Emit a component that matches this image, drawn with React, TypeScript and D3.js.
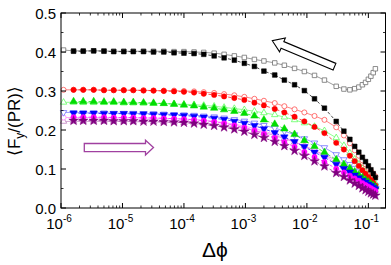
import React from "react";
import * as d3 from "d3";

const xFwd = [1.6e-6, 2.3e-6, 3.4e-6, 5e-6, 7.2e-6, 1.05e-5, 1.5e-5, 2.2e-5, 3.2e-5, 4.7e-5, 6.9e-5, 1e-4, 1.46e-4, 2.1e-4, 3.1e-4, 4.5e-4, 6.6e-4, 9.6e-4, 1.4e-3, 2e-3, 3e-3, 4.3e-3, 6.3e-3, 9.1e-3, 0.0133, 0.0193, 0.03, 0.04, 0.05, 0.06, 0.07, 0.08, 0.09, 0.1, 0.11, 0.12, 0.13];
const xRev = [1.1e-6, 1.6e-6, 2.3e-6, 3.4e-6, 5e-6, 7.2e-6, 1.05e-5, 1.5e-5, 2.2e-5, 3.2e-5, 4.7e-5, 6.9e-5, 1e-4, 1.46e-4, 2.1e-4, 3.1e-4, 4.5e-4, 6.6e-4, 9.6e-4, 1.4e-3, 2e-3, 3e-3, 4.3e-3, 6.3e-3, 9.1e-3, 0.0133, 0.0193, 0.03, 0.04, 0.05, 0.06, 0.07, 0.08, 0.09, 0.1, 0.11, 0.12, 0.13];

const blackFwd = [0.402, 0.402, 0.403, 0.402, 0.401, 0.401, 0.401, 0.401, 0.400, 0.400, 0.398, 0.397, 0.396, 0.394, 0.390, 0.385, 0.379, 0.371, 0.363, 0.351, 0.341, 0.328, 0.316, 0.301, 0.280, 0.256, 0.222, 0.197, 0.176, 0.158, 0.143, 0.130, 0.119, 0.108, 0.098, 0.088, 0.078];
const blackRev = [0.405, 0.403, 0.403, 0.403, 0.403, 0.402, 0.402, 0.402, 0.402, 0.402, 0.402, 0.401, 0.401, 0.400, 0.399, 0.397, 0.394, 0.390, 0.386, 0.381, 0.377, 0.372, 0.366, 0.358, 0.350, 0.340, 0.328, 0.312, 0.305, 0.303, 0.306, 0.310, 0.316, 0.322, 0.330, 0.338, 0.347, 0.357];
const redFwd = [0.303, 0.303, 0.303, 0.302, 0.302, 0.302, 0.302, 0.301, 0.301, 0.300, 0.299, 0.298, 0.296, 0.293, 0.290, 0.286, 0.282, 0.277, 0.270, 0.263, 0.254, 0.245, 0.234, 0.222, 0.208, 0.192, 0.167, 0.150, 0.134, 0.120, 0.108, 0.097, 0.088, 0.080, 0.072, 0.065, 0.058];
const redRev = [0.303, 0.303, 0.303, 0.303, 0.302, 0.302, 0.302, 0.302, 0.302, 0.301, 0.301, 0.301, 0.300, 0.299, 0.297, 0.295, 0.292, 0.289, 0.285, 0.280, 0.275, 0.269, 0.261, 0.253, 0.245, 0.236, 0.226, 0.207, 0.186, 0.166, 0.148, 0.134, 0.122, 0.112, 0.103, 0.095, 0.088, 0.081];
const greenFwd = [0.273, 0.273, 0.273, 0.272, 0.272, 0.271, 0.271, 0.270, 0.269, 0.268, 0.266, 0.264, 0.262, 0.259, 0.256, 0.252, 0.248, 0.243, 0.236, 0.226, 0.215, 0.203, 0.189, 0.173, 0.158, 0.143, 0.124, 0.112, 0.102, 0.093, 0.085, 0.078, 0.072, 0.067, 0.062, 0.058, 0.054];
const greenRev = [0.271, 0.271, 0.270, 0.270, 0.270, 0.270, 0.269, 0.269, 0.269, 0.268, 0.268, 0.267, 0.266, 0.265, 0.263, 0.261, 0.258, 0.255, 0.252, 0.248, 0.244, 0.239, 0.233, 0.226, 0.218, 0.209, 0.198, 0.180, 0.160, 0.141, 0.125, 0.112, 0.101, 0.092, 0.084, 0.077, 0.070, 0.064];
const blueFwd = [0.243, 0.243, 0.243, 0.242, 0.242, 0.242, 0.241, 0.241, 0.240, 0.239, 0.238, 0.237, 0.235, 0.233, 0.230, 0.227, 0.222, 0.217, 0.211, 0.203, 0.193, 0.182, 0.170, 0.157, 0.143, 0.130, 0.112, 0.101, 0.092, 0.084, 0.077, 0.071, 0.066, 0.061, 0.057, 0.053, 0.049];
const blueRev = [0.245, 0.245, 0.244, 0.244, 0.244, 0.243, 0.243, 0.243, 0.242, 0.242, 0.241, 0.240, 0.239, 0.238, 0.236, 0.234, 0.231, 0.227, 0.223, 0.218, 0.212, 0.205, 0.197, 0.188, 0.178, 0.167, 0.155, 0.137, 0.124, 0.112, 0.102, 0.093, 0.086, 0.079, 0.073, 0.067, 0.062, 0.057];
const magentaFwd = [0.233, 0.233, 0.233, 0.233, 0.232, 0.232, 0.232, 0.231, 0.231, 0.230, 0.229, 0.228, 0.226, 0.224, 0.221, 0.217, 0.212, 0.206, 0.199, 0.190, 0.180, 0.169, 0.157, 0.144, 0.131, 0.118, 0.101, 0.091, 0.083, 0.076, 0.070, 0.064, 0.059, 0.055, 0.051, 0.047, 0.044];
const magentaRev = [0.232, 0.232, 0.232, 0.232, 0.232, 0.231, 0.231, 0.231, 0.231, 0.230, 0.230, 0.229, 0.228, 0.227, 0.225, 0.222, 0.219, 0.215, 0.210, 0.204, 0.197, 0.189, 0.180, 0.170, 0.159, 0.147, 0.134, 0.116, 0.104, 0.094, 0.085, 0.078, 0.072, 0.066, 0.061, 0.056, 0.052, 0.048];
const purpleFwd = [0.224, 0.224, 0.224, 0.224, 0.223, 0.223, 0.223, 0.222, 0.222, 0.221, 0.220, 0.219, 0.217, 0.214, 0.211, 0.207, 0.202, 0.196, 0.188, 0.180, 0.170, 0.159, 0.147, 0.134, 0.120, 0.107, 0.090, 0.080, 0.071, 0.063, 0.057, 0.051, 0.046, 0.042, 0.038, 0.035, 0.032];
const purpleRev = [0.222, 0.222, 0.222, 0.222, 0.222, 0.222, 0.222, 0.221, 0.221, 0.221, 0.220, 0.220, 0.219, 0.218, 0.217, 0.215, 0.212, 0.208, 0.204, 0.199, 0.193, 0.186, 0.178, 0.169, 0.159, 0.148, 0.136, 0.123, 0.106, 0.094, 0.084, 0.076, 0.069, 0.063, 0.058, 0.053, 0.049, 0.045];

const yTicks = [0, 0.1, 0.2, 0.3, 0.4, 0.5];
const yTickLabels = ["0.0", "0.1", "0.2", "0.3", "0.4", "0.5"];
const xDecades = [1e-6, 1e-5, 1e-4, 1e-3, 1e-2, 1e-1];
const xDecadeExp = ["-6", "-5", "-4", "-3", "-2", "-1"];

const W = 391, H = 265;
const L = 61, R = 385.5, T = 13, B = 208;

type Series = { x: number[]; y: number[]; color: string; sym: string; open: boolean; size: number };

const revSeries: Series[] = [
  { x: xRev, y: purpleRev, color: "#c080c0", sym: "tri", open: true, size: 18 },
  { x: xRev, y: magentaRev, color: "#ff80ff", sym: "circle", open: true, size: 20 },
  { x: xRev, y: blueRev, color: "#7070ff", sym: "triDown", open: true, size: 18 },
  { x: xRev, y: greenRev, color: "#60ff60", sym: "tri", open: true, size: 18 },
  { x: xRev, y: redRev, color: "#ff5050", sym: "circle", open: true, size: 20 },
  { x: xRev, y: blackRev, color: "#707070", sym: "square", open: true, size: 20 },
];
const fwdSeries: Series[] = [
  { x: xFwd, y: blackFwd, color: "#000000", sym: "square", open: false, size: 22 },
  { x: xFwd, y: redFwd, color: "#ff0000", sym: "circle", open: false, size: 22 },
  { x: xFwd, y: greenFwd, color: "#00dd00", sym: "tri", open: false, size: 24 },
  { x: xFwd, y: blueFwd, color: "#0000ff", sym: "triDown", open: false, size: 24 },
  { x: xFwd, y: magentaFwd, color: "#ff00ff", sym: "circle", open: false, size: 22 },
  { x: xFwd, y: purpleFwd, color: "#800080", sym: "star", open: false, size: 28 },
];

export default function App() {
  const x = d3.scaleLog().domain([1e-6, 0.19]).range([L, R]);
  const y = d3.scaleLinear().domain([0, 0.5]).range([B, T]);

  const minorX: number[] = [];
  for (let e = -6; e <= -1; e++) {
    for (let m = 2; m <= 9; m++) {
      const v = m * Math.pow(10, e);
      if (v < 0.19) minorX.push(v);
    }
  }
  const minorY = [0.05, 0.15, 0.25, 0.35, 0.45];

  const symPath = (s: Series) => {
    const t = s.sym === "square" ? d3.symbolSquare : s.sym === "circle" ? d3.symbolCircle : s.sym === "star" ? d3.symbolStar : d3.symbolTriangle;
    return d3.symbol().type(t).size(s.size)() as string;
  };

  const renderSeries = (s: Series, i: number) => {
    const pts: [number, number][] = s.x.map((xv, k) => [x(xv), y(s.y[k])]);
    const line = d3.line()(pts) as string;
    const p = symPath(s);
    return (
      <g key={(s.open ? "o" : "f") + i}>
        <path d={line} fill="none" stroke={s.color} strokeWidth={0.7} strokeDasharray={s.open ? undefined : "3,2"} />
        {pts.map(([px, py], k) => (
          <path
            key={k}
            d={p}
            transform={`translate(${px},${py})${s.sym === "triDown" ? " rotate(180)" : ""}`}
            fill={s.open ? "white" : s.color}
            stroke={s.color}
            strokeWidth={s.open ? 0.8 : 0.5}
          />
        ))}
      </g>
    );
  };

  const tail: [number, number] = [334.5, 66.7];
  const tip: [number, number] = [272.3, 40.7];
  const dx = tip[0] - tail[0], dy = tip[1] - tail[1];
  const len = Math.hypot(dx, dy);
  const ux = dx / len, uy = dy / len;
  const nx = -uy, ny = ux;
  const hw = 3.6, hh = 7.5, hl = 11;
  const bx = tip[0] - ux * hl, by = tip[1] - uy * hl;
  const arrowPts = [
    [tail[0] + nx * hw, tail[1] + ny * hw],
    [bx + nx * hw, by + ny * hw],
    [bx + nx * hh, by + ny * hh],
    [tip[0], tip[1]],
    [bx - nx * hh, by - ny * hh],
    [bx - nx * hw, by - ny * hw],
    [tail[0] - nx * hw, tail[1] - ny * hw],
  ];
  const arrow1 = "M" + arrowPts.map((p) => p.join(",")).join("L") + "Z";
  const a2 = [
    [84.3, 143.5], [145.5, 143.5], [145.5, 140.2], [153.5, 147.6], [145.5, 155], [145.5, 151.7], [84.3, 151.7],
  ];
  const arrow2 = "M" + a2.map((p) => p.join(",")).join("L") + "Z";

  return (
    <svg width={W} height={H} style={{ position: "absolute", left: 0, top: 0, background: "white" }} fontFamily="'Liberation Sans', Arial, sans-serif">
      <rect x={0} y={0} width={W} height={H} fill="white" />
      {revSeries.map(renderSeries)}
      {fwdSeries.map(renderSeries)}
      <rect x={L} y={T} width={R - L} height={B - T} fill="none" stroke="black" strokeWidth={1} />
      {xDecades.map((v, i) => (
        <g key={"xd" + i}>
          <line x1={x(v)} x2={x(v)} y1={B} y2={B - 5} stroke="black" />
          <line x1={x(v)} x2={x(v)} y1={T} y2={T + 5} stroke="black" />
          <text x={x(v) - 2} y={229} textAnchor="middle" fontSize={15}>
            10<tspan dy={-7} fontSize={10}>{xDecadeExp[i]}</tspan>
          </text>
        </g>
      ))}
      {minorX.map((v, i) => (
        <g key={"xm" + i}>
          <line x1={x(v)} x2={x(v)} y1={B} y2={B - 2.5} stroke="black" strokeWidth={0.8} />
          <line x1={x(v)} x2={x(v)} y1={T} y2={T + 2.5} stroke="black" strokeWidth={0.8} />
        </g>
      ))}
      {yTicks.map((v, i) => (
        <g key={"yt" + i}>
          <line x1={L} x2={L + 5} y1={y(v)} y2={y(v)} stroke="black" />
          <line x1={R} x2={R - 5} y1={y(v)} y2={y(v)} stroke="black" />
          <text x={56} y={y(v) + 5.5} textAnchor="end" fontSize={15}>{yTickLabels[i]}</text>
        </g>
      ))}
      {minorY.map((v, i) => (
        <g key={"ym" + i}>
          <line x1={L} x2={L + 2.5} y1={y(v)} y2={y(v)} stroke="black" strokeWidth={0.8} />
          <line x1={R} x2={R - 2.5} y1={y(v)} y2={y(v)} stroke="black" strokeWidth={0.8} />
        </g>
      ))}
      <path d={arrow1} fill="white" stroke="black" strokeWidth={1.1} />
      <path d={arrow2} fill="white" stroke="#a040a0" strokeWidth={1.3} />
      <text x={215} y={257} textAnchor="middle" fontSize={21}>Δϕ</text>
      <text transform="translate(20,121) rotate(-90)" textAnchor="middle" fontSize={17}>
        ⟨F<tspan dy={4} fontSize={12}>y</tspan><tspan dy={-4}>/(PR)⟩</tspan>
      </text>
    </svg>
  );
}
